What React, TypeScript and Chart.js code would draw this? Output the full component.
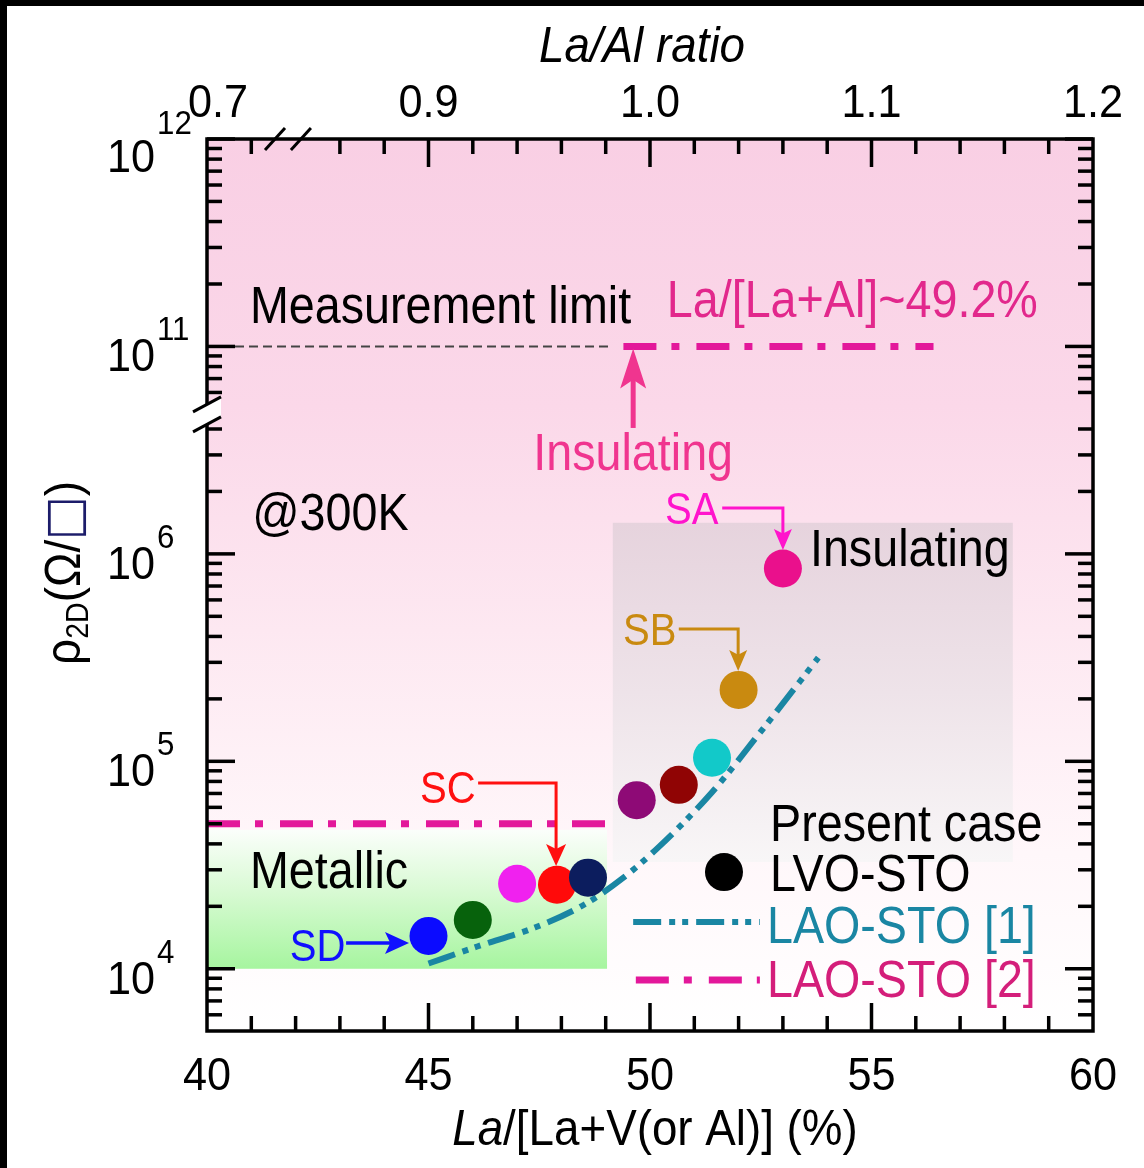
import React, { useEffect, useRef } from 'react';
import { Chart, registerables } from 'chart.js';

Chart.register(...registerables);

// ---------------- data ----------------
// La/[La+V] (%) of the present LVO-STO samples and their sheet resistance (ohm/sq)
const samplePct = [45.0, 46.0, 47.0, 47.9, 48.6, 49.7, 50.65, 51.4, 52.0, 53.0];
const sampleRho = [1.44e4, 1.72e4, 2.57e4, 2.54e4, 2.75e4, 6.5e4, 7.7e4, 1.04e5, 2.21e5, 8.5e5];

// LAO-STO [1] trend curve
const lao1Pct = [45.0, 46.1, 47.4, 48.5, 49.4, 50.2, 51.4, 52.5, 53.8];
const lao1Rho = [1.06e4, 1.28e4, 1.58e4, 2.03e4, 2.75e4, 3.87e4, 7.1e4, 1.39e5, 3.16e5];

// LAO-STO [2] levels
const lao2LowPct = [40, 49.2];
const lao2LowRho = [5e4, 5e4];
const lao2HighPct = [49.4, 56.4];
const lao2HighRho = [1e11, 1e11];

// measurement limit
const limitPct = [40, 49.15];
const limitRho = [1e11, 1e11];

// tick labels
const bottomTicks = [40, 45, 50, 55, 60];
const topTicks = [0.7, 0.9, 1.0, 1.1, 1.2];
const yTickExps = [4, 5, 6, 11, 12];

// ---------------- styles ----------------
const sampleColors = ['#0b0bff', '#07620c', '#f021ef', '#ff0a0a', '#0c1d5e', '#8e0a76', '#900404', '#12c9c9', '#c98a10', '#ea108c'];
const TEAL = '#1a86a3';
const MAG = '#e3179a';
const TEAL_DASH = [28, 8, 6, 7, 6, 8];
const MAG_DASH = [33, 15, 8, 17];
const FONT = '"Liberation Sans", Arial, Helvetica, sans-serif';

// broken log axis: lower segment log10(v); upper segment log10(v)-4
const toU = (v: number) => {
  const l = Math.log10(v);
  return l > 8 ? l - 4 : l;
};
// broken top axis: values below the break are shifted by +0.1
const toTop = (r: number) => (r < 0.8 ? r + 0.1 : r);

function drawText(
  ctx: CanvasRenderingContext2D,
  s: string,
  x: number,
  y: number,
  size: number,
  color: string,
  align: 'left' | 'center' | 'right' = 'left',
  italic = false,
  sx = 0.915,
  family = FONT
) {
  ctx.save();
  ctx.font = `${italic ? 'italic ' : ''}${size}px ${family}`;
  ctx.fillStyle = color;
  ctx.textAlign = 'left';
  ctx.textBaseline = 'alphabetic';
  const w = ctx.measureText(s).width * sx;
  const x0 = align === 'center' ? x - w / 2 : align === 'right' ? x - w : x;
  ctx.translate(x0, y);
  ctx.scale(sx, 1);
  ctx.fillText(s, 0, 0);
  ctx.restore();
  return w;
}

function measure(ctx: CanvasRenderingContext2D, s: string, size: number, italic = false, sx = 0.915, family = FONT) {
  ctx.save();
  ctx.font = `${italic ? 'italic ' : ''}${size}px ${family}`;
  const w = ctx.measureText(s).width * sx;
  ctx.restore();
  return w;
}

function line(ctx: CanvasRenderingContext2D, x0: number, y0: number, x1: number, y1: number) {
  ctx.beginPath();
  ctx.moveTo(x0, y0);
  ctx.lineTo(x1, y1);
  ctx.stroke();
}

function head(ctx: CanvasRenderingContext2D, tx: number, ty: number, dir: 'down' | 'up' | 'right', len: number, half: number, color: string) {
  ctx.save();
  ctx.fillStyle = color;
  ctx.beginPath();
  ctx.moveTo(tx, ty);
  if (dir === 'down') {
    ctx.lineTo(tx - half, ty - len);
    ctx.lineTo(tx, ty - len * 0.78);
    ctx.lineTo(tx + half, ty - len);
  } else if (dir === 'up') {
    ctx.lineTo(tx - half, ty + len);
    ctx.lineTo(tx, ty + len * 0.78);
    ctx.lineTo(tx + half, ty + len);
  } else {
    ctx.lineTo(tx - len, ty - half);
    ctx.lineTo(tx - len * 0.78, ty);
    ctx.lineTo(tx - len, ty + half);
  }
  ctx.closePath();
  ctx.fill();
  ctx.restore();
}

const decorPlugin = {
  id: 'decor',
  beforeDraw(chart: any) {
    const ctx: CanvasRenderingContext2D = chart.ctx;
    const W = chart.width;
    const H = chart.height;
    const { left, right, top, bottom } = chart.chartArea;
    const X = (v: number) => chart.scales.x.getPixelForValue(v);
    const Y = (u: number) => chart.scales.y.getPixelForValue(u);
    ctx.save();
    ctx.fillStyle = '#ffffff';
    ctx.fillRect(0, 0, W, H);
    ctx.fillStyle = '#000000';
    ctx.fillRect(0, 0, 7, H);
    ctx.fillRect(0, 0, W, 6);

    // pink background
    const g = ctx.createLinearGradient(0, top, 0, bottom);
    g.addColorStop(0, '#f9cfe4');
    g.addColorStop(0.3, '#fbd8e9');
    g.addColorStop(0.55, '#fde8f1');
    g.addColorStop(0.8, '#fff7fa');
    g.addColorStop(1, '#ffffff');
    ctx.fillStyle = g;
    ctx.fillRect(left, top, right - left, bottom - top);

    // gray "insulating" box
    const gx0 = X(49.16), gx1 = X(58.19), gy0 = Y(6.15), gy1 = Y(4.515);
    const gg = ctx.createLinearGradient(0, gy0, 0, gy1);
    gg.addColorStop(0, '#e6d3dd');
    gg.addColorStop(0.5, '#eee3e9');
    gg.addColorStop(1, '#f8f6f7');
    ctx.fillStyle = gg;
    ctx.fillRect(gx0, gy0, gx1 - gx0, gy1 - gy0);

    // green "metallic" box
    const ex0 = X(40), ex1 = X(49.03), ey0 = Y(4.67), ey1 = Y(4.0);
    const eg = ctx.createLinearGradient(0, ey0, 0, ey1);
    eg.addColorStop(0, '#fbfefb');
    eg.addColorStop(0.45, '#d8fad3');
    eg.addColorStop(1, '#a6f59f');
    ctx.fillStyle = eg;
    ctx.fillRect(ex0, ey0, ex1 - ex0, ey1 - ey0);
    ctx.restore();
  },
  afterDraw(chart: any) {
    const ctx: CanvasRenderingContext2D = chart.ctx;
    const { left, right, top, bottom } = chart.chartArea;
    const X = (v: number) => chart.scales.x.getPixelForValue(v);
    const X2 = (v: number) => chart.scales.x2.getPixelForValue(v);
    const Y = (u: number) => chart.scales.y.getPixelForValue(u);
    ctx.save();

    // ---- legend samples ----
    ctx.lineCap = 'butt';
    ctx.lineWidth = 6;
    ctx.strokeStyle = TEAL;
    ctx.setLineDash(TEAL_DASH);
    line(ctx, X(49.62), Y(4.225), X(52.48), Y(4.225));
    ctx.lineWidth = 7;
    ctx.strokeStyle = MAG;
    ctx.setLineDash(MAG_DASH);
    line(ctx, X(49.68), Y(3.946), X(52.48), Y(3.946));
    ctx.setLineDash([]);
    ctx.fillStyle = '#000';
    ctx.beginPath();
    ctx.arc(X(51.67), Y(4.466), 19, 0, Math.PI * 2);
    ctx.fill();

    // ---- frame ----
    ctx.strokeStyle = '#000';
    ctx.lineWidth = 3.5;
    ctx.strokeRect(left, top, right - left, bottom - top);

    // bottom ticks (1% minor, 5% major)
    for (let p = 41; p < 60; p++) {
      const len = p % 5 === 0 ? 28 : 15;
      line(ctx, X(p), bottom, X(p), bottom - len);
    }
    // top ticks (ratio, minor every 0.02)
    const topMinor: number[] = [0.72];
    for (let k = 43; k <= 59; k++) topMinor.push(k * 0.02);
    topMinor.forEach((r) => {
      const major = Math.abs(r * 10 - Math.round(r * 10)) < 1e-6;
      const len = major ? 28 : 15;
      const x = X2(toTop(r));
      line(ctx, x, top, x, top + len);
    });

    // y ticks
    const yMajor = yTickExps.map((e) => toU(Math.pow(10, e)));
    const yMinor: number[] = [];
    for (let k = 3; k <= 6; k++)
      for (let m = 2; m <= 9; m++) {
        const u = toU(m * Math.pow(10, k));
        if (u > 3.7 && u < 6.62) yMinor.push(u);
      }
    for (let k = 10; k <= 11; k++)
      for (let m = 2; m <= 9; m++) {
        const u = toU(m * Math.pow(10, k));
        if (u > 6.72 && u < 8) yMinor.push(u);
      }
    yMajor.forEach((u) => {
      line(ctx, left, Y(u), left + 28, Y(u));
      line(ctx, right, Y(u), right - 28, Y(u));
    });
    yMinor.forEach((u) => {
      line(ctx, left, Y(u), left + 15, Y(u));
      line(ctx, right, Y(u), right - 15, Y(u));
    });

    // left axis break
    const yb = Y(6.67);
    ctx.fillStyle = '#ffffff';
    ctx.beginPath();
    ctx.moveTo(left - 14, yb - 3);
    ctx.lineTo(left + 14, yb - 18);
    ctx.lineTo(left + 14, yb + 2);
    ctx.lineTo(left - 14, yb + 17);
    ctx.closePath();
    ctx.fill();
    ctx.lineWidth = 3;
    line(ctx, left - 14, yb - 3, left + 14, yb - 18);
    line(ctx, left - 14, yb + 17, left + 14, yb + 2);

    // top axis break
    [0.8307, 0.8424].forEach((d) => {
      const x = X2(d);
      line(ctx, x - 10, top + 11, x + 10, top - 11);
    });

    // ---- tick labels ----
    bottomTicks.forEach((v) => {
      drawText(ctx, String(v), X(v), bottom + 59, 47, '#000', 'center', false, 0.92);
    });
    topTicks.forEach((r, i) => {
      const off = i === 0 ? 11 : 0;
      drawText(ctx, r.toFixed(1), X2(toTop(r)) + off, top - 22, 47, '#000', 'center', false, 0.92);
    });
    yTickExps.forEach((e) => {
      const y = Y(toU(Math.pow(10, e)));
      const dyB = e === 12 ? 33 : 25;
      const dyE = e === 12 ? -5 : -6;
      drawText(ctx, '10', left - 52, y + dyB, 47, '#000', 'right', false, 0.92);
      drawText(ctx, String(e), left - 50, y + dyE, 34, '#000', 'left', false, 0.92);
    });

    // ---- axis titles ----
    {
      const s1 = 'La', s2 = '/[La+V(or Al)] (%)';
      const w1 = measure(ctx, s1, 50, true);
      const w2 = measure(ctx, s2, 50, false);
      const cx = (X(40) + X(60)) / 2 + 5;
      const start = cx - (w1 + w2) / 2;
      drawText(ctx, s1, start, bottom + 114, 50, '#000', 'left', true);
      drawText(ctx, s2, start + w1, bottom + 114, 50, '#000', 'left', false);
    }
    drawText(ctx, 'La/Al ratio', (X(40) + X(60)) / 2 - 8, top - 77, 50, '#000', 'center', true);

    // y title (rotated)
    {
      const pieces = [
        { s: '\u03C1', size: 50, dy: 0, fam: FONT, col: '#000' },
        { s: '2D', size: 31, dy: 8, fam: FONT, col: '#000' },
        { s: '(\u03A9/', size: 50, dy: 0, fam: FONT, col: '#000' },
        { s: '\u25A1', size: 50, dy: 0, fam: '"DejaVu Sans"', col: '#1c1c6a' },
        { s: ')', size: 50, dy: 0, fam: FONT, col: '#000' },
      ];
      const widths = pieces.map((p) => measure(ctx, p.s, p.size, false, 0.92, p.fam));
      const total = widths.reduce((a, b) => a + b, 0);
      ctx.save();
      ctx.translate(80, (top + bottom) / 2 - 12);
      ctx.rotate(-Math.PI / 2);
      let x = -total / 2;
      pieces.forEach((p, i) => {
        drawText(ctx, p.s, x, p.dy, p.size, p.col, 'left', false, 0.92, p.fam);
        x += widths[i];
      });
      ctx.restore();
    }

    // ---- annotations ----
    drawText(ctx, 'Measurement limit', X(40.97), Y(7.113), 51, '#000');
    drawText(ctx, 'La/[La+Al]~49.2%', X(50.38), Y(7.142), 51, '#e2288c');
    drawText(ctx, 'Insulating', X(49.62), Y(6.404), 51, '#f0358f', 'center');
    ctx.strokeStyle = '#f0358f';
    ctx.lineWidth = 5;
    line(ctx, X(49.62), Y(6.607), X(49.62), Y(6.85));
    head(ctx, X(49.62), Y(6.99), 'up', 40, 13, '#f0358f');

    drawText(ctx, '@300K', X(41.02), Y(6.115), 51, '#000');
    drawText(ctx, 'Insulating', X(53.61), Y(5.942), 51, '#000');
    drawText(ctx, 'Metallic', X(40.97), Y(4.389), 51, '#000');

    // SA
    drawText(ctx, 'SA', X(50.34), Y(6.144), 44, '#ff14cc', 'left', false, 0.91);
    ctx.strokeStyle = '#ff14cc';
    ctx.lineWidth = 3;
    ctx.beginPath();
    ctx.moveTo(X(51.63), Y(6.221));
    ctx.lineTo(X(53.0), Y(6.221));
    ctx.lineTo(X(53.0), Y(6.019) - 16);
    ctx.stroke();
    head(ctx, X(53.0), Y(6.019), 'down', 21, 9, '#ff14cc');

    // SB
    drawText(ctx, 'SB', X(49.39), Y(5.561), 44, '#c98a10', 'left', false, 0.91);
    ctx.strokeStyle = '#c98a10';
    ctx.beginPath();
    ctx.moveTo(X(50.65), Y(5.638));
    ctx.lineTo(X(51.99), Y(5.638));
    ctx.lineTo(X(51.99), Y(5.435) - 16);
    ctx.stroke();
    head(ctx, X(51.99), Y(5.435), 'down', 21, 9, '#c98a10');

    // SC
    drawText(ctx, 'SC', X(44.81), Y(4.799), 44, '#ff1010', 'left', false, 0.91);
    ctx.strokeStyle = '#ff1010';
    ctx.beginPath();
    ctx.moveTo(X(46.12), Y(4.896));
    ctx.lineTo(X(47.88), Y(4.896));
    ctx.lineTo(X(47.88), Y(4.495) - 17);
    ctx.stroke();
    head(ctx, X(47.88), Y(4.495), 'down', 22, 10, '#ff1010');

    // SD
    drawText(ctx, 'SD', X(41.87), Y(4.037), 44, '#1010ff', 'left', false, 0.91);
    ctx.strokeStyle = '#1010ff';
    ctx.lineWidth = 3.5;
    line(ctx, X(43.14), Y(4.124), X(44.56) - 18, Y(4.124));
    head(ctx, X(44.56), Y(4.124), 'right', 24, 11, '#1010ff');

    // legend text
    drawText(ctx, 'Present case', X(52.71), Y(4.616), 51, '#000');
    drawText(ctx, 'LVO-STO', X(52.71), Y(4.375), 51, '#000');
    drawText(ctx, 'LAO-STO [1]', X(52.64), Y(4.124), 51, TEAL);
    drawText(ctx, 'LAO-STO [2]', X(52.64), Y(3.864), 51, '#d41e7a');

    ctx.restore();
  },
};

export default function App() {
  const ref = useRef<HTMLCanvasElement | null>(null);
  useEffect(() => {
    if (!ref.current) return;
    const pts = (xs: number[], vs: number[]) => xs.map((x, i) => ({ x, y: toU(vs[i]) }));
    const chart = new Chart(ref.current, {
      type: 'scatter',
      data: {
        datasets: [
          {
            label: 'LVO-STO',
            data: pts(samplePct, sampleRho),
            pointBackgroundColor: sampleColors,
            pointBorderWidth: 0,
            pointRadius: 19,
            pointHoverRadius: 19,
            showLine: false,
            order: 0,
          } as any,
          {
            label: 'LAO-STO [1]',
            data: pts(lao1Pct, lao1Rho),
            showLine: true,
            borderColor: TEAL,
            borderWidth: 6,
            borderDash: TEAL_DASH,
            cubicInterpolationMode: 'monotone',
            pointRadius: 0,
            fill: false,
            order: 1,
          } as any,
          {
            label: 'LAO-STO [2] low',
            data: pts(lao2LowPct, lao2LowRho),
            showLine: true,
            borderColor: MAG,
            borderWidth: 7,
            borderDash: MAG_DASH,
            pointRadius: 0,
            order: 1,
          } as any,
          {
            label: 'LAO-STO [2] high',
            data: pts(lao2HighPct, lao2HighRho),
            showLine: true,
            borderColor: MAG,
            borderWidth: 7,
            borderDash: MAG_DASH,
            pointRadius: 0,
            order: 1,
          } as any,
          {
            label: 'Measurement limit',
            data: pts(limitPct, limitRho),
            showLine: true,
            borderColor: '#444444',
            borderWidth: 2,
            borderDash: [9, 5],
            pointRadius: 0,
            order: 1,
          } as any,
        ],
      },
      options: {
        responsive: false,
        animation: false,
        devicePixelRatio: 1,
        events: [],
        layout: { padding: { left: 207, top: 139, right: 51, bottom: 137 } },
        plugins: { legend: { display: false }, tooltip: { enabled: false } },
        scales: {
          x: { type: 'linear', min: 40, max: 60, display: false },
          x2: { type: 'linear', position: 'top', min: 0.8, max: 1.2, display: false },
          y: { type: 'linear', min: 3.7, max: 8, display: false },
        },
      } as any,
      plugins: [decorPlugin as any],
    });
    return () => chart.destroy();
  }, []);
  return (
    <div style={{ position: 'absolute', left: 0, top: 0, width: 1144, height: 1168 }}>
      <canvas ref={ref} width={1144} height={1168} style={{ display: 'block' }} />
    </div>
  );
}
